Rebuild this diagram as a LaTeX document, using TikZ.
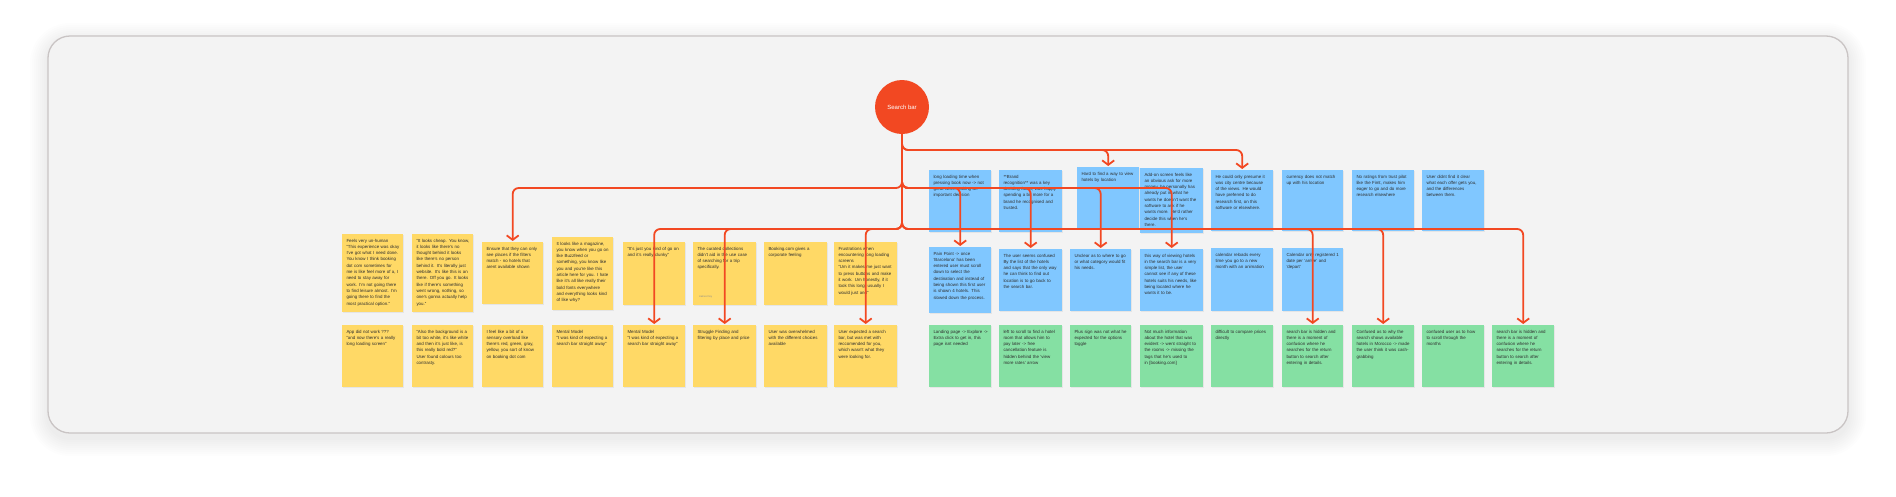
\documentclass[tikz,border=0pt]{standalone}
\usepackage{fontspec}
\setmainfont{Liberation Sans}
\usetikzlibrary{arrows.meta}
\definecolor{bgfill}{HTML}{F3F3F3}
\definecolor{frameline}{HTML}{C9C4C4}
\definecolor{ny}{HTML}{FFD966}
\definecolor{nb}{HTML}{80C7FF}
\definecolor{ng}{HTML}{85E0A3}
\definecolor{acc}{HTML}{F24822}
\definecolor{ntext}{HTML}{2E2E2E}
\tikzset{
  notebox/.style={inner sep=0pt, draw=none},
  notetext/.style={font=\fontsize{4.4}{6.3}\selectfont, text=ntext, align=left,
    text width=55pt, inner xsep=4.3pt, inner ysep=3.4pt},
  conn/.style={draw=acc, line width=1.8pt, rounded corners=6pt,
    -{Straight Barb[length=4.5pt,width=12pt]}, shorten >=1pt},
  hub/.style={circle, fill=acc, minimum size=54pt, inner sep=0pt, text=white,
    font=\fontsize{6}{7}\selectfont}
}
\newcommand\stickynote[7]{%
  \fill[black!10] (#2+0.5,#3+1.3) rectangle ++(#4,#5);
  \node[notebox, fill=#6, minimum width=#4pt, minimum height=#5pt, anchor=north west] (#1) at (#2,#3) {};
  \node[notetext, anchor=north west] (#1-t) at (#2,#3) {\strut #7};
}
\begin{document}
\begin{tikzpicture}[x=1pt,y=-1pt]
\useasboundingbox (0,0) rectangle (1896,496);
\fill[white] (0,0) rectangle (1896,496);
% frame shadow
\foreach \s in {2,4,...,18}{
  \fill[black, opacity=0.008, rounded corners=22pt+\s pt] (48-\s,36-\s+5) rectangle (1848+\s,433+\s+5);
}
\draw[frameline, fill=bgfill, line width=1.3pt, rounded corners=22pt] (48,36) rectangle (1848,433);

% levels
\coordinate (lvA) at (0,150);
\coordinate (lvB) at (0,188);
\coordinate (lvC) at (0,229);

% ===== yellow top row
\stickynote{y1}{342}{234}{61}{78}{ny}{Feels very un-human\\``This experience was okay\\I've got what I need done.\\You know I think booking\\dot com sometimes for\\me is like feel more of a, I\\need to stay away for\\work. I'm not going there\\to find leisure almost. I'm\\going there to find the\\most practical option.''}
\stickynote{y2}{412}{234}{61}{78}{ny}{``It looks cheap. You know,\\it looks like there's no\\thought behind it looks\\like there's no person\\behind it. It's literally just\\website. It's like this is an\\there. Off you go. It looks\\like if there's something\\went wrong, nothing, so\\one's gonna actually help\\you.''}
\stickynote{y3}{482}{242}{61}{62}{ny}{Ensure that they can only\\see places if the filters\\match - no hotels that\\arent available shown}
\stickynote{y4}{552}{237}{61}{73}{ny}{It looks like a magazine,\\you know when you go on\\like Buzzfeed or\\something, you know like\\you and you're like this\\article here for you. I hate\\like it's all like really their\\bold fonts everywhere\\and everything looks kind\\of like why?}
\stickynote{y5}{623}{242}{62}{63}{ny}{``It's just you kind of go on\\and it's really clunky''}
\stickynote{y6}{693}{242}{63}{63}{ny}{The curated collections\\didn't aid in the use case\\of searching for a trip\\specifically.}
\node[font=\fontsize{2.6}{3}\selectfont, text=black!45, anchor=west, inner sep=0pt] (y6-a) at (699,297) {James Doy};
\stickynote{y7}{764}{242}{63}{63}{ny}{Booking.com gives a\\corporate feeling}
\stickynote{y8}{834}{242}{63}{63}{ny}{Frustrations when\\encountering long loading\\screens\\``Um it makes me just want\\to press buttons and make\\it work. Um honestly, if it\\took this long, usually I\\would just and''}

% ===== yellow bottom row
\stickynote{yb1}{342}{325}{61}{62}{ny}{App did not work ???\\``and now there's a really\\long loading screen''}
\stickynote{yb2}{412}{325}{61}{62}{ny}{``Also the background is a\\bit too white, it's like white\\and then it's just like, is\\this really bold red?''\\User found colours too\\contrasty.}
\stickynote{yb3}{482}{325}{61}{62}{ny}{I feel like a bit of a\\sensory overload like\\there's red, green, gray,\\yellow, you sort of know\\on booking dot com}
\stickynote{yb4}{552}{325}{61}{62}{ny}{Mental Model\\``I was kind of expecting a\\search bar straight away''}
\stickynote{yb5}{623}{325}{62}{62}{ny}{Mental Model\\``I was kind of expecting a\\search bar straight away''}
\stickynote{yb6}{693}{325}{63}{62}{ny}{Struggle Finding and\\filtering by place and price}
\stickynote{yb7}{764}{325}{63}{62}{ny}{User was overwhelmed\\with the different choices\\available}
\stickynote{yb8}{834}{325}{63}{62}{ny}{User expected a search\\bar, but was met with\\reccomended for you,\\which wasn't what they\\were looking for.}

% ===== blue top row
\stickynote{b1}{929}{170}{62}{62}{nb}{long loading time when\\pressing book now -> not\\great when making an\\important decision}
\stickynote{b2}{999}{170}{63}{62}{nb}{**Brand\\recognition** was a key\\deciding factor, was happy\\spending a bit more for a\\brand he recognised and\\trusted.}
\stickynote{b3}{1077}{167}{62}{62}{nb}{Hard to find a way to view\\hotels by location}
\stickynote{b4}{1140}{168}{63}{65}{nb}{Add-on screen feels like\\an obvious ask for more\\money, he personally has\\already put in what he\\wants he doesn't want the\\software to ask if he\\wants more. He'd rather\\decide this when he's\\there.}
\stickynote{b5}{1211}{170}{62}{61}{nb}{He could only presume it\\was city centre because\\of the views. He would\\have preferred to do\\research first, on this\\software or elsewhere.}
\stickynote{b6}{1282}{170}{61}{61}{nb}{currency does not match\\up with his location}
\stickynote{b7}{1352}{170}{62}{61}{nb}{No ratings from trust pilot\\like the Fimt, makes him\\eager to go and do more\\research elsewhere}
\stickynote{b8}{1422}{170}{62}{61}{nb}{User didnt find it clear\\what each offer gets you,\\and the differences\\between them.}

% ===== blue second row
\stickynote{c1}{929}{247}{62}{66}{nb}{Pain Point -> once\\`Barcelona' has been\\entered user must scroll\\down to select the\\destination and instead of\\being shown this first user\\is shown 4 hotels. This\\slowed down the process.}
\stickynote{c2}{999}{249}{63}{62}{nb}{The user seems confused\\By the list of the hotels\\and says that the only way\\he can think to find out\\location is to go back to\\the search bar.}
\stickynote{c3}{1070}{249}{61}{62}{nb}{Unclear as to where to go\\or what category would fit\\his needs.}
\stickynote{c4}{1140}{249}{63}{62}{nb}{this way of viewing hotels\\in the search bar is a very\\simple list, the user\\cannot see if any of these\\hotels suits his needs, like\\being located where he\\wants it to be.}
\stickynote{c5}{1211}{248}{62}{63}{nb}{calendar reloads every\\time you go to a new\\month with an animation}
\stickynote{c6}{1282}{248}{61}{63}{nb}{Calendar only registered 1\\date per `arrive' and\\`depart'}

% ===== green row
\stickynote{g1}{929}{325}{62}{62}{ng}{Landing page -> Explore ->\\Extra click to get in, this\\page isnt needed}
\stickynote{g2}{999}{325}{63}{62}{ng}{left to scroll to find a hotel\\room that allows him to\\pay later -> free\\cancellation feature is\\hidden behind the `view\\more rates' arrow}
\stickynote{g3}{1070}{325}{61}{62}{ng}{Plus sign was not what he\\expected for the options\\toggle}
\stickynote{g4}{1140}{325}{63}{62}{ng}{Not much information\\about the hotel that was\\evident -> went straight to\\the rooms -> missing the\\tags that he's used to\\in [booking.com]}
\stickynote{g5}{1211}{325}{62}{62}{ng}{difficult to compare prices\\directly}
\stickynote{g6}{1282}{325}{61}{62}{ng}{search bar is hidden and\\there is a moment of\\confusion where he\\searches for the return\\button to search after\\entering in details.}
\stickynote{g7}{1352}{325}{62}{62}{ng}{Confused as to why the\\search shows available\\hotels in Morocco -> made\\the user think it was cash-\\grabbing}
\stickynote{g8}{1422}{325}{62}{62}{ng}{confused user as to how\\to scroll through the\\months}
\stickynote{g9}{1492}{325}{62}{62}{ng}{search bar is hidden and\\there is a moment of\\confusion where he\\searches for the return\\button to search after\\entering in details.}

% ===== hub
\node[hub] (sb) at (902,107) {Search bar};

% ===== connectors
\foreach \t in {b3,b5}{
  \draw[conn] (sb.south) |- (\t.north |- lvA) -- (\t.north);
}
\foreach \t in {y3,c1,c2,c3,c4}{
  \draw[conn] (sb.south) |- (\t.north |- lvB) -- (\t.north);
}
\foreach \t in {yb5,yb6,yb8,g6,g7,g9}{
  \draw[conn] (sb.south) |- (\t.north |- lvC) -- (\t.north);
}
\end{tikzpicture}
\end{document}
